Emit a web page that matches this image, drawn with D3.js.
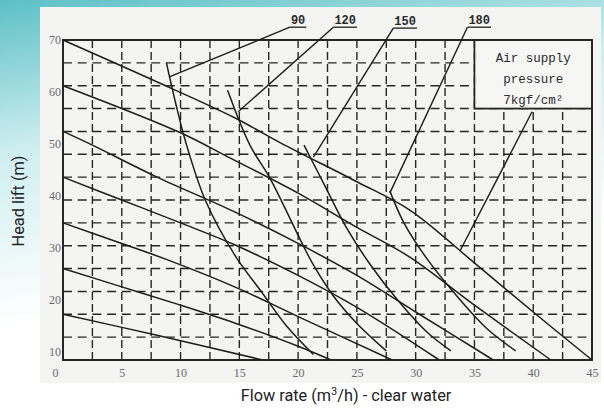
<!DOCTYPE html>
<html>
<head>
<meta charset="utf-8">
<script src="https://cdn.jsdelivr.net/npm/d3@7/dist/d3.min.js"></script>
<style>
  body { margin: 0; background: #fff; }
</style>
</head>
<body>
<div id="chart"></div>
<script>
// data: [flow m3/h, head m]
let xTicks = [0, 5, 10, 15, 20, 25, 30, 35, 40, 45];
let yTicks = [70, 60, 50, 40, 30, 20, 10];

// air supply pressure curves (top = 7 kgf/cm2)
let press7 = [[0, 70], [7.6, 61.3], [14.6, 53], [18.5, 47.5], [25, 39], [29.5, 32.8], [35.2, 20.8], [40, 10.5], [45, 0]];
let press6 = [[0, 60], [10, 49.7], [14.2, 44.2], [20, 36.5], [25, 29], [29.5, 22.5], [35, 12], [41.5, 0]];
let press5 = [[0, 50], [2.5, 47], [8, 40], [14.6, 32.4], [20, 25.5], [25, 18.5], [30, 10.5], [36.6, 0]];
let press4 = [[0, 40], [5, 35], [10, 30], [14.6, 25.2], [20, 18.5], [25, 11.5], [32, 0]];
let press3 = [[0, 30], [5, 25.5], [8.9, 21.9], [14.6, 16], [20, 9.5], [28, 0]];
let press2 = [[0, 20], [5, 16], [10, 12], [14.6, 8.1], [20, 3], [22.8, 0]];
let press1 = [[0, 10], [8, 5.4], [17, 0]];

// air consumption curves
let air90 = [[8.8, 65], [9.6, 56], [10.4, 48], [12.1, 35], [14.6, 23], [17, 14.5], [19, 7.5], [21.3, 1.2]];
let air120 = [[14, 59], [15.9, 47], [17.6, 39.8], [20.4, 25.2], [21.3, 20.8], [23, 14], [25, 8], [27.5, 2]];
let air150 = [[20.5, 47], [22.3, 38], [24.1, 29], [26.1, 21], [28.5, 13], [31, 6], [33, 2]];
let air180 = [[27.8, 37], [29, 30], [31, 22], [33.5, 14], [36, 7], [38.5, 2]];

// leader labels: text, label anchor, end of leader
let leaderNames = ["90", "120", "150", "180"];
let leaderFrom = [[19.3, 72.8], [23, 72.8], [28.1, 72.6], [34.4, 72.8]];
let leaderTo = [[9.1, 62], [14.9, 54.3], [21.3, 44.4], [27.8, 36.5]];
let boxLines = ["Air supply", "pressure", "7kgf/cm\u00b2"];
let boxLeader = [[39.9, 54.3], [33.8, 24]];

let width = 604, height = 412;
let plot = {left: 63, right: 592, top: 40, bottom: 360};

let svg = d3.select("#chart").append("svg")
    .attr("width", width)
    .attr("height", height);

// page background + scanned paper
let defs = svg.append("defs");
let grad = defs.append("linearGradient").attr("id", "bg")
    .attr("x1", 0).attr("y1", 0).attr("x2", 0.25).attr("y2", 1);
grad.append("stop").attr("offset", "0%").attr("stop-color", "#5cc0c6");
grad.append("stop").attr("offset", "35%").attr("stop-color", "#cfeef0");
grad.append("stop").attr("offset", "75%").attr("stop-color", "#ffffff");

svg.append("rect").attr("width", width).attr("height", height).attr("fill", "url(#bg)");
svg.append("rect")
    .attr("x", 40).attr("y", 7).attr("width", 561).attr("height", 376)
    .attr("fill", "#f4f4f3");

let x = d3.scaleLinear().domain([0, 45]).range([plot.left, plot.right]);
let y = d3.scaleLinear().domain([0, 70]).range([plot.bottom, plot.top]);
// the printed head labels drift downwards on the scan
let yLabel = d3.scaleLinear().domain([70, 10]).range([40, 352]);

let g = svg.append("g");

// grid
let ink = "#262626";
g.selectAll(".vgrid").data(d3.range(2.5, 45, 2.5)).enter().append("line")
    .attr("class", "vgrid")
    .attr("x1", d => x(d)).attr("x2", d => x(d))
    .attr("y1", y(70)).attr("y2", y(0))
    .attr("stroke", ink).attr("stroke-width", 1.4)
    .attr("stroke-dasharray", "8,4");
g.selectAll(".hgrid").data(d3.range(5, 70, 5)).enter().append("line")
    .attr("class", "hgrid")
    .attr("x1", x(0)).attr("x2", x(45))
    .attr("y1", d => y(d)).attr("y2", d => y(d))
    .attr("stroke", ink).attr("stroke-width", 1.4)
    .attr("stroke-dasharray", "9,5.7");

// legend box (covers the grid)
g.append("rect")
    .attr("x", x(35)).attr("y", y(70))
    .attr("width", x(45) - x(35)).attr("height", y(55) - y(70))
    .attr("fill", "#f6f6f5").attr("stroke", ink).attr("stroke-width", 1.8);
g.selectAll(".boxtext").data(boxLines).enter().append("text")
    .attr("x", x(40))
    .attr("y", (d, i) => y(70) + 22 + i * 21)
    .attr("text-anchor", "middle")
    .attr("font-family", "Liberation Mono, DejaVu Sans Mono, monospace")
    .attr("font-size", 12.5)
    .attr("fill", "#2a2a2a")
    .text(d => d);

// frame
g.append("rect")
    .attr("x", x(0)).attr("y", y(70))
    .attr("width", x(45) - x(0)).attr("height", y(0) - y(70))
    .attr("fill", "none").attr("stroke", ink).attr("stroke-width", 2);

let line = d3.line()
    .x(d => x(d[0]))
    .y(d => y(d[1]))
    .curve(d3.curveCatmullRom.alpha(0.5));

let curves = [press7, press6, press5, press4, press3, press2, press1, air90, air120, air150, air180];
g.selectAll(".curve").data(curves).enter().append("path")
    .attr("class", "curve")
    .attr("d", line)
    .attr("fill", "none")
    .attr("stroke", "#1e1e1e")
    .attr("stroke-width", 1.5);

// leaders
let straight = d3.line().x(d => x(d[0])).y(d => y(d[1]));
leaderNames.forEach(function (name, i) {
    g.append("path")
        .attr("d", straight([leaderFrom[i], leaderTo[i]]))
        .attr("fill", "none").attr("stroke", "#1e1e1e").attr("stroke-width", 1.4);
    let t = g.append("text")
        .attr("x", x(leaderFrom[i][0]) + 1)
        .attr("y", y(leaderFrom[i][1]) - 3)
        .attr("font-family", "Liberation Mono, DejaVu Sans Mono, monospace")
        .attr("font-size", 12)
        .attr("font-weight", "bold")
        .attr("fill", "#2a2a2a")
        .text(name);
    let w = t.node().getComputedTextLength();
    g.append("line")
        .attr("x1", x(leaderFrom[i][0])).attr("x2", x(leaderFrom[i][0]) + w + 2)
        .attr("y1", y(leaderFrom[i][1])).attr("y2", y(leaderFrom[i][1]))
        .attr("stroke", "#1e1e1e").attr("stroke-width", 1.3);
});
g.append("path")
    .attr("d", straight(boxLeader))
    .attr("fill", "none").attr("stroke", "#1e1e1e").attr("stroke-width", 1.4);

// axes (labels only, as printed on the sheet)
let xAxis = d3.axisBottom(x).tickValues(xTicks).tickSize(0).tickPadding(8);
let xGroup = svg.append("g")
    .attr("transform", "translate(0," + plot.bottom + ")")
    .call(xAxis);
xGroup.select(".domain").remove();
xGroup.selectAll("text")
    .attr("font-family", "Liberation Serif, DejaVu Serif, serif")
    .attr("font-size", 12)
    .attr("fill", "#6a6a6a")
    .attr("dx", d => d === 0 ? -8 : 0);

let yAxis = d3.axisLeft(yLabel).tickValues(yTicks).tickSize(0).tickPadding(2);
let yGroup = svg.append("g")
    .attr("transform", "translate(" + plot.left + ",0)")
    .call(yAxis);
yGroup.select(".domain").remove();
yGroup.selectAll("text")
    .attr("font-family", "Liberation Serif, DejaVu Serif, serif")
    .attr("font-size", 12)
    .attr("fill", "#6a6a6a");

// axis titles
let titleFont = "Roboto, sans-serif";
svg.append("text")
    .attr("transform", "translate(24,201) rotate(-90)")
    .attr("text-anchor", "middle")
    .attr("font-family", titleFont)
    .attr("font-size", 16.3)
    .attr("fill", "#222")
    .text("Head lift (m)");

let xt = svg.append("text")
    .attr("x", 346).attr("y", 401)
    .attr("text-anchor", "middle")
    .attr("font-family", titleFont)
    .attr("font-size", 16.3)
    .attr("fill", "#222");
xt.append("tspan").text("Flow rate (m");
xt.append("tspan").attr("dy", -6).attr("font-size", 11).text("3");
xt.append("tspan").attr("dy", 6).text("/h) - clear water");
</script>
</body>
</html>
